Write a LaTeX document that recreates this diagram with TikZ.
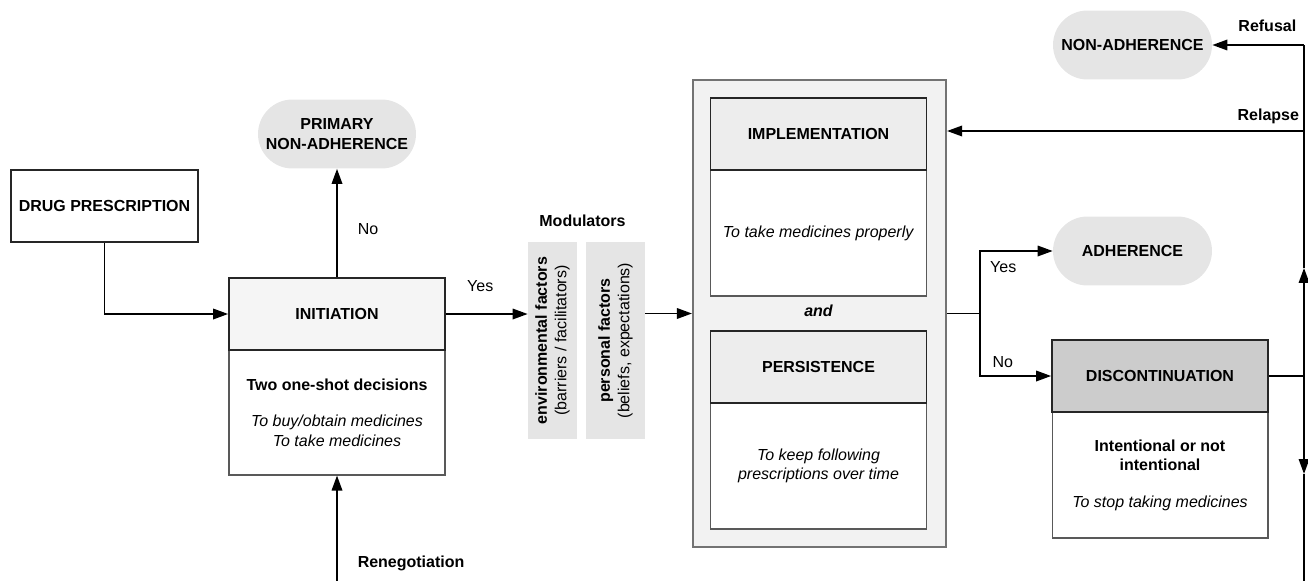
\documentclass[tikz,border=0pt]{standalone}
\usepackage{fontspec}
\setmainfont{Liberation Sans}
\usetikzlibrary{arrows.meta, positioning, shapes.misc}

\begin{document}
\begin{tikzpicture}[
        x=0.02cm, y=-0.02cm,
        font=\fontsize{9.1}{11}\selectfont,
        box/.style={rectangle, draw=black!85, line width=1pt, inner sep=0pt, align=center, font=\fontsize{9.1}{11}\selectfont\bfseries},
        head/.style={box, minimum width=4.32cm, minimum height=1.44cm, fill=black!4},
        body/.style={rectangle, draw=black!65, line width=0.6pt, fill=white, inner sep=0pt, align=center, minimum width=4.32cm, minimum height=2.52cm},
        pill/.style={rounded rectangle, fill=black!10, inner sep=0pt, minimum width=3.18cm, minimum height=1.38cm, align=center, font=\fontsize{9.1}{11}\selectfont\bfseries},
        factor/.style={rectangle, fill=black!10, inner sep=0pt, rotate=90, minimum width=3.94cm, align=center},
        tag/.style={font=\fontsize{9.1}{11}\selectfont\bfseries},
        arrow/.style={-{Triangle[length=0.3cm, width=0.21cm]}, line width=1pt},
        link/.style={line width=1pt}
    ]
        \useasboundingbox (0,0) rectangle (1308,581);

        % start and initiation
        \node[box, minimum width=3.74cm, minimum height=1.44cm] (drug) at (104.5,206) {DRUG PRESCRIPTION};
        \node[body, minimum height=2.5cm] (initbody) at (337,412.5) {\textbf{Two one-shot decisions}\\[10pt]\textit{To buy/obtain medicines}\\\textit{To take medicines}};
        \node[head] (init) at (337,314) {INITIATION};
        \node[pill, minimum width=3.16cm] (primary) at (337,134) {PRIMARY\\NON-ADHERENCE};

        % modulators
        \node[tag] (modlab) at (582.5,221) {Modulators};
        \node[factor, minimum height=0.98cm] (env) at (552.5,340.5) {\textbf{environmental factors}\\(barriers / facilitators)};
        \node[factor, minimum height=1.18cm] (pers) at (615.5,340.5) {\textbf{personal factors}\\(beliefs, expectations)};

        % implementation and persistence
        \node[rectangle, draw=black!55, line width=1.2pt, fill=black!5, minimum width=5.06cm, minimum height=9.34cm] (maint) at (819.5,313.5) {};
        \node[body] (implbody) at (818.5,233) {\textit{To take medicines properly}};
        \node[head, fill=black!7] (impl) at (818.5,134) {IMPLEMENTATION};
        \node[tag, font=\fontsize{9.1}{11}\selectfont\bfseries\itshape] (and) at (818.5,311) {and};
        \node[body] (persbody) at (818.5,466) {\textit{To keep following}\\\textit{prescriptions over time}};
        \node[head, fill=black!7] (persist) at (818.5,367) {PERSISTENCE};

        % outcomes
        \node[pill] (nonadh) at (1132.5,45) {NON-ADHERENCE};
        \node[pill] (adh) at (1132.5,251) {ADHERENCE};
        \node[body] (discbody) at (1160,475) {\textbf{Intentional or not}\\\textbf{intentional}\\[10pt]\textit{To stop taking medicines}};
        \node[head, fill=black!20] (disc) at (1160,376) {DISCONTINUATION};

        \coordinate (reneg) at (337,581);
        \coordinate (fork) at (980,313.5);
        \coordinate (railtop) at (1304,45);
        \coordinate (railbot) at (1304,581);
        \coordinate (relapse) at (1304,131);
        \coordinate (railup) at (1304,268);
        \coordinate (raildown) at (1304,474);

        \draw[arrow] (drug.south) |- (init.west);
        \draw[arrow] (init.north) -- node[pos=0.44, right=8pt] {No} (primary.south);
        \draw[arrow] (reneg) -- node[tag, pos=0.17, right=8pt] {Renegotiation} (initbody.south);
        \draw[arrow] (init.east) -- node[pos=0.42, above=9pt] {Yes} (init.east -| env.north);
        \draw[arrow] (maint.west -| pers.south) -- (maint.west);

        \draw[link] (maint.east) -- (fork);
        \draw[arrow] (fork) |- node[pos=0.66, below=2pt] {Yes} (adh.west);
        \draw[arrow] (fork) |- node[pos=0.66, above=1pt] {No} (disc.west);

        % loop back from discontinuation
        \draw[link] (disc.east) -- (disc.east -| railtop);
        \draw[arrow] (disc.east -| railtop) -- (railup);
        \draw[link] (railup) -- (railtop);
        \draw[arrow] (disc.east -| railtop) -- (raildown);
        \draw[link] (raildown) -- (railbot);
        \draw[arrow] (railtop) -- node[tag, pos=0.4, above=4pt] {Refusal} (nonadh.east);
        \draw[arrow] (relapse) -- node[tag, pos=0.1, above=0pt] {Relapse} (relapse -| maint.east);
    \end{tikzpicture}
\end{document}
